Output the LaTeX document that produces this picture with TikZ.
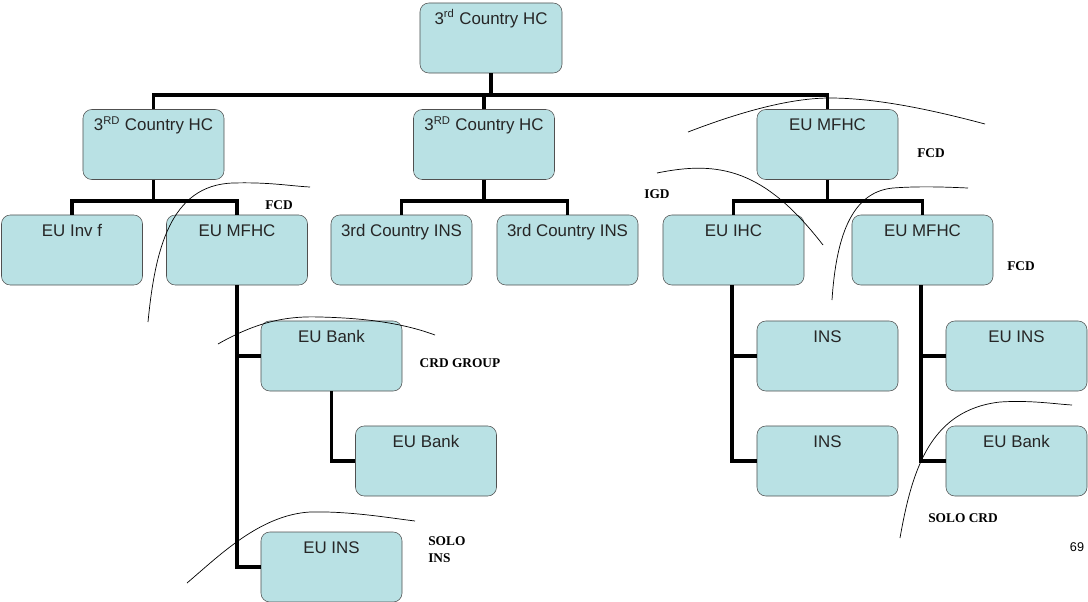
\documentclass[tikz,border=0pt]{standalone}
\usepackage{fontspec}
\setmainfont{Liberation Sans}
\newfontfamily\tagfont{Liberation Serif}
\usetikzlibrary{positioning,calc}
\definecolor{boxfill}{RGB}{185,225,228}
\definecolor{boxline}{RGB}{80,80,80}

\begin{document}
\begin{tikzpicture}[
  x=0.025cm, y=-0.025cm,
  box/.style={draw=boxline, fill=boxfill, rounded corners=2.2mm,
    minimum width=3.525cm, inner sep=0pt, text height=5.25mm,
    text depth=12.25mm, text=black!85,
    font=\fontsize{12}{14}\selectfont},
  conn/.style={line width=2.8pt, line join=miter},
  cut/.style={line width=0.5pt},
  tag/.style={font=\tagfont\bfseries\fontsize{9.5}{12}\selectfont,
    inner sep=0pt, align=left}
]
  \useasboundingbox (0,0) rectangle (1088,601);

  % top and second level
  \node[box, minimum width=3.55cm] (top) at (491,38) {3\textsuperscript{rd} Country HC};
  \node[box] (hcA) at (153.5,144.5) {3\textsuperscript{RD} Country HC};
  \node[box] (hcB) at (484,144.5) {3\textsuperscript{RD} Country HC};
  \node[box] (mfA) at (827.5,144.5) {EU MFHC};

  % third level
  \node[box] (inv) at (72,250) {EU Inv f};
  \node[box] (mfB) at (237,250) {EU MFHC};
  \node[box] (insA) at (401.5,250) {3rd Country INS};
  \node[box] (insB) at (567.5,250) {3rd Country INS};
  \node[box] (ihc) at (733.5,250) {EU IHC};
  \node[box] (mfC) at (922.5,250) {EU MFHC};

  % lower levels
  \node[box] (bankA) at (331.5,356) {EU Bank};
  \node[box] (bankB) at (426,461) {EU Bank};
  \node[box] (insC) at (331.5,567) {EU INS};
  \node[box] (insD) at (827.5,356) {INS};
  \node[box] (insE) at (827.5,461) {INS};
  \node[box] (insF) at (1016.5,356) {EU INS};
  \node[box] (bankC) at (1016.5,461) {EU Bank};

  % tree lines
  \coordinate (bar0) at (491,95);
  \coordinate (barA) at (153.5,201);
  \coordinate (barB) at (484,201);
  \coordinate (barC) at (827.5,201);
  \draw[conn] (top.south) -- (bar0);
  \draw[conn] (hcA.north) |- (bar0) -| (mfA.north);
  \draw[conn] (hcB.north) -- (hcB.north |- bar0);
  \draw[conn] (hcA.south) -- (barA);
  \draw[conn] (inv.north) |- (barA) -| (mfB.north);
  \draw[conn] (hcB.south) -- (barB);
  \draw[conn] (insA.north) |- (barB) -| (insB.north);
  \draw[conn] (mfA.south) -- (barC);
  \draw[conn] (ihc.north) |- (barC) -| (mfC.north);
  \draw[conn] (mfB.south) |- (insC.west);
  \draw[conn] (mfB.south |- bankA.west) -- (bankA.west);
  \draw[conn] (bankA.south) |- (bankB.west);
  \draw[conn] (ihc.south -| 732,0) |- (insE.west);
  \draw[conn] (732,0 |- insD.west) -- (insD.west);
  \draw[conn] (mfC.south -| 921,0) |- (bankC.west);
  \draw[conn] (921,0 |- insF.west) -- (insF.west);

  % hand drawn boundaries
  \draw[cut] (148,322) .. controls (155,250) and (170,185) .. (233,183)
    .. controls (270,182) and (290,186) .. (310,187);
  \draw[cut] (218,344) .. controls (260,320) and (290,316) .. (320,317)
    .. controls (360,318) and (400,322) .. (435,335);
  \draw[cut] (187,583) .. controls (220,555) and (260,515) .. (310,512)
    .. controls (350,511) and (390,518) .. (415,521);
  \draw[cut] (688,132) .. controls (740,112) and (790,98) .. (830,98)
    .. controls (880,98) and (940,112) .. (985,124);
  \draw[cut] (657,173) .. controls (720,160) and (765,170) .. (823,245);
  \draw[cut] (832,300) .. controls (836,240) and (850,192) .. (893,188)
    .. controls (920,186) and (945,187) .. (968,188);
  \draw[cut] (900,538) .. controls (912,470) and (930,410) .. (1000,402)
    .. controls (1030,400) and (1055,404) .. (1072,405);

  % scope labels
  \node[tag] (fcdA) at (279,205) {FCD};
  \node[tag] (fcdB) at (931,153) {FCD};
  \node[tag] (igd) at (657,194) {IGD};
  \node[tag] (fcdC) at (1021,266) {FCD};
  \node[tag] (crd) at (460,363) {CRD GROUP};
  \node[tag, anchor=west] (soloA) at (428,550) {SOLO\\INS};
  \node[tag] (soloB) at (963,518) {SOLO CRD};
  \node[font=\fontsize{9}{10}\selectfont, inner sep=0pt] (page) at (1077,547) {69};
\end{tikzpicture}
\end{document}
